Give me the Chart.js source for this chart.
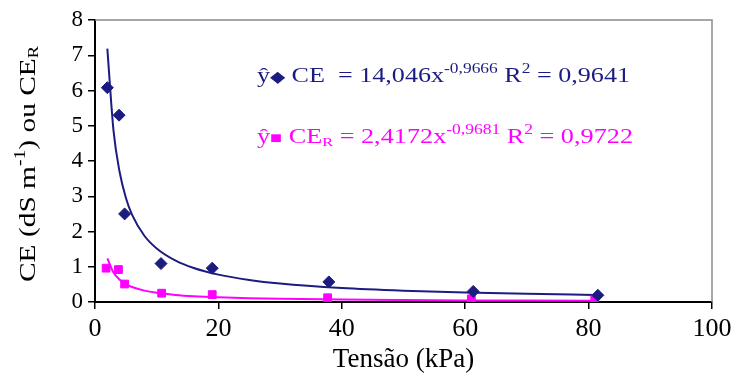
<!DOCTYPE html>
<html><head><meta charset="utf-8">
<script src="https://cdn.jsdelivr.net/npm/chart.js@4/dist/chart.umd.min.js"></script>
<style>html,body{margin:0;padding:0;background:#fff}#wrap{width:744px;height:378px}</style>
</head><body><div id="wrap"><canvas id="c" width="744" height="378"></canvas></div>
<script>
const xTicks = [0, 20, 40, 60, 80, 100];
const yTicks = [0, 1, 2, 3, 4, 5, 6, 7, 8];
const ceX = [2.0, 3.9, 4.8, 10.7, 19.0, 37.9, 61.3, 81.5];
const ceY = [6.08, 5.30, 2.50, 1.09, 0.96, 0.57, 0.30, 0.19];
const cerX = [1.8, 3.8, 4.8, 10.8, 19.0, 37.7, 61.0, 81.0];
const cerY = [0.96, 0.92, 0.51, 0.25, 0.21, 0.12, 0.09, 0.07];
const trendX = [2, 3, 4, 5, 6, 8, 10, 13, 16, 20, 25, 30, 40, 50, 60, 70, 81];
const ceTrend = [7.19, 4.86, 3.68, 2.96, 2.48, 1.88, 1.52, 1.18, 0.963, 0.777, 0.626, 0.524, 0.397, 0.320, 0.268, 0.231, 0.201];
const cerTrend = [1.236, 0.834, 0.632, 0.509, 0.426, 0.323, 0.260, 0.202, 0.165, 0.133, 0.107, 0.090, 0.068, 0.055, 0.046, 0.040, 0.034];

const NAVY = '#1c1c80', MAG = '#ff00ff';
const FONT = '"Liberation Serif", "Times New Roman", serif';
const pts = (xs, ys) => xs.map((x, i) => ({x, y: ys[i]}));

function fsFor(m, size) {
  if (m === 'sup') return Math.round(size * 0.68);
  if (m === 'sub') return Math.round(size * 0.62);
  if (m === 'sym') return Math.round(size * 0.75);
  return size;
}
function richWidth(ctx, parts, size) {
  let w = 0;
  for (const [t, m] of parts) { ctx.font = fsFor(m, size) + 'px ' + FONT; w += ctx.measureText(t).width; }
  return w;
}
// draws rich text with its left end at x and stretched along its direction to span targetW
function drawRich(ctx, x, y, parts, size, color, targetW) {
  const w = richWidth(ctx, parts, size);
  const k = targetW ? targetW / w : 1;
  ctx.save();
  ctx.translate(x, y);
  ctx.scale(k, 1);
  ctx.fillStyle = color;
  ctx.textBaseline = 'alphabetic';
  ctx.textAlign = 'left';
  let cx = 0;
  for (const [t, m] of parts) {
    let dy = 0;
    if (m === 'sup') dy = -size * 0.42;
    if (m === 'sub') dy = size * 0.12;
    ctx.font = fsFor(m, size) + 'px ' + FONT;
    ctx.fillText(t, cx, dy);
    cx += ctx.measureText(t).width;
  }
  ctx.restore();
}

const decor = {
  id: 'decor',
  beforeDatasetsDraw(chart) {
    const {ctx, chartArea: a} = chart;
    ctx.save();
    ctx.strokeStyle = '#8a8a8a';
    ctx.lineWidth = 1.5;
    ctx.beginPath();
    ctx.moveTo(a.left, a.top); ctx.lineTo(a.right, a.top); ctx.lineTo(a.right, a.bottom);
    ctx.stroke();
    ctx.restore();
  },
  afterDraw(chart) {
    const {ctx} = chart;
    drawRich(ctx, 257, 82, [['ŷ','n'],['◆','sym'],[' CE  = 14,046x','n'],['-0,9666','sup'],[' R','n'],['2','sup'],[' = 0,9641','n']], 21, NAVY, 373);
    drawRich(ctx, 257, 143, [['ŷ','n'],['■','sym'],[' CE','n'],['R','sub'],[' = 2,4172x','n'],['-0,9681','sup'],[' R','n'],['2','sup'],[' = 0,9722','n']], 21, MAG, 376);
    // y axis title
    const yparts = [['CE (dS m','n'],['-1','sup'],[') ou CE','n'],['R','sub']];
    const L = 236;
    ctx.save();
    ctx.translate(35, 164);
    ctx.rotate(-Math.PI / 2);
    drawRich(ctx, -L / 2, 0, yparts, 24, '#000', L);
    ctx.restore();
  }
};

new Chart(document.getElementById('c'), {
  type: 'scatter',
  data: {
    datasets: [
      {label: 'CE tendência', data: pts(trendX, ceTrend), showLine: true, borderColor: NAVY, borderWidth: 2, pointRadius: 0, cubicInterpolationMode: 'monotone', order: 1},
      {label: 'CER tendência', data: pts(trendX, cerTrend), showLine: true, borderColor: MAG, borderWidth: 2, pointRadius: 0, cubicInterpolationMode: 'monotone', order: 1},
      {label: 'CE', data: pts(ceX, ceY), pointStyle: 'rectRot', pointRadius: 6, backgroundColor: NAVY, borderColor: NAVY, order: 0},
      {label: 'CER', data: pts(cerX, cerY), pointStyle: 'rect', pointRadius: 5.5, backgroundColor: MAG, borderColor: MAG, order: 0}
    ]
  },
  options: {
    responsive: false,
    animation: false,
    layout: {padding: {top: 20, right: 32, left: 0, bottom: 0}},
    plugins: {legend: {display: false}, tooltip: {enabled: false}},
    scales: {
      x: {
        type: 'linear', min: 0, max: 100,
        afterBuildTicks: s => { s.ticks = xTicks.map(v => ({value: v})); },
        afterFit: s => { s.height = 76; },
        ticks: {color: '#000', font: {family: FONT, size: 26}, padding: 5},
        grid: {drawOnChartArea: false, tickLength: 7, color: '#000', lineWidth: 1.5},
        border: {color: '#000', width: 2},
        title: {display: true, text: 'Tensão (kPa)', color: '#000', font: {family: FONT, size: 27}, padding: {top: 0, bottom: 2}}
      },
      y: {
        type: 'linear', min: 0, max: 8,
        afterBuildTicks: s => { s.ticks = yTicks.map(v => ({value: v})); },
        afterFit: s => { s.width = 95; },
        ticks: {color: '#000', font: {family: FONT, size: 23}, padding: 5},
        grid: {drawOnChartArea: false, tickLength: 7, color: '#000', lineWidth: 1.5},
        border: {color: '#000', width: 2}
      }
    }
  },
  plugins: [decor]
});
</script>
</body></html>
